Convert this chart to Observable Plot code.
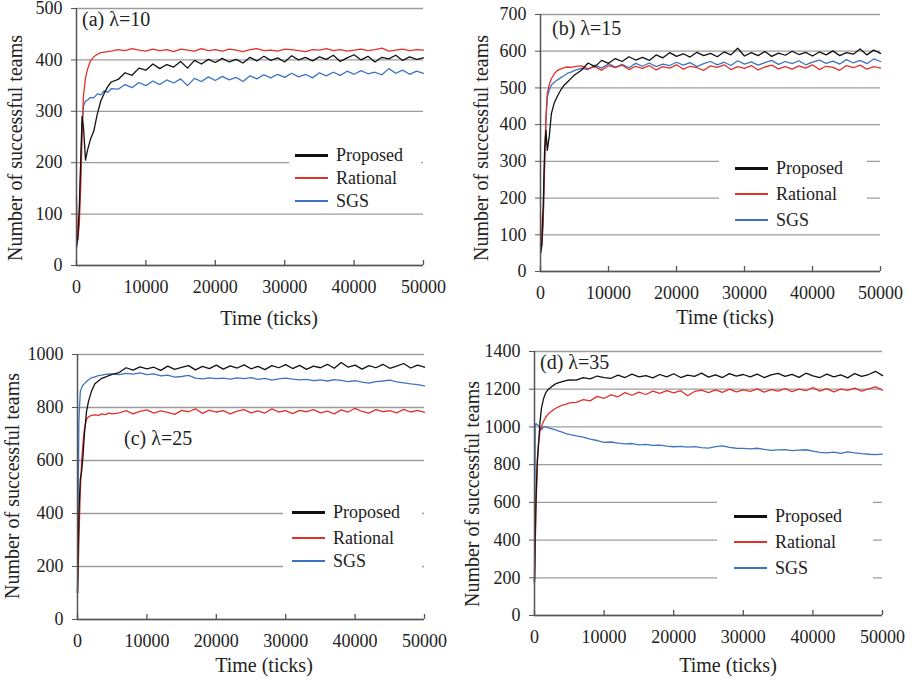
<!DOCTYPE html>
<html><head><meta charset="utf-8">
<script src="https://cdn.jsdelivr.net/npm/d3@7"></script>
<script src="https://cdn.jsdelivr.net/npm/@observablehq/plot@0.6"></script>
<style>
body{margin:0;background:#fff;}
#wrap{position:relative;width:920px;height:682px;font-family:"Liberation Serif","DejaVu Serif",serif;color:#222;overflow:hidden;}
.panel{position:absolute;}
.txt{position:absolute;white-space:nowrap;line-height:1;}
.ytitle{transform:translate(-50%,-50%) rotate(-90deg);font-size:20px;}
.xtitle{transform:translate(-50%,-50%);font-size:20px;}
.plabel{transform:translateY(-50%);font-size:20px;}
.legend{position:absolute;background:#fff;}
.lrow{position:absolute;left:0;display:flex;align-items:center;font-size:18px;line-height:1;transform:translateY(-50%);}
.lline{display:inline-block;width:33px;margin-right:8px;}
</style></head><body><div id="wrap"></div><script>
// time samples (ticks)
const ticks = [0,100,200,400,600,800,1000,1300,1600,2000,2500,3000,3500,4000,4500,5000,
 6000,7000,8000,9000,10000,11000,12000,13000,14000,15000,16000,17000,18000,19000,20000,
 21000,22000,23000,24000,25000,26000,27000,28000,29000,30000,31000,32000,33000,34000,35000,
 36000,37000,38000,39000,40000,41000,42000,43000,44000,45000,46000,47000,48000,49000,50000];

const seriesNames = ["Proposed","Rational","SGS"];
const seriesColors = ["#111111","#e2312a","#3d74bf"];
const xTickValues = [0,10000,20000,30000,40000,50000];

// (a) lambda = 10
const aProposed = [40,45,60,110,200,290,270,205,225,245,262,295,320,335,348,357,
 362,375,370,384,380, 392,383,391,386,397, 384,399,392,401,395, 403,396,401,394,405,
 398,407,399,404,396, 408,400,405,398,406, 401,409,397,404,410, 400,407,396,405,402, 409,399,406,401,404];
const aRational = [135,60,50,80,150,250,330,365,382,398,406,411,414,415,416,417,
 420,418,422,419,417, 421,418,420,416,421, 419,417,422,418,420, 417,421,419,416,420,
 422,418,419,417,421, 420,418,416,420,419, 422,418,420,417,419, 421,418,420,423,417, 419,421,418,420,419];
const aSGS = [35,40,55,100,190,270,310,320,322,327,326,334,332,340,337,344,
 343,352,346,356,350, 359,352,361,355,363, 350,364,358,367,360, 368,361,366,358,369,
 363,371,365,372,366, 374,367,372,365,375, 369,376,370,378,372, 379,373,376,371,383, 374,380,372,378,374];
const aYTicks = [0,100,200,300,400,500];

// (b) lambda = 15
const bProposed = [50,60,80,180,330,385,330,370,430,458,478,495,508,517,526,535,
 548,568,558,575,567, 580,572,585,576,583, 575,590,582,596,586, 593,584,597,588,594,
 585,598,590,608,587, 596,588,599,586,595, 589,600,591,597,587, 598,590,601,588,596, 592,606,590,603,594];
const bRational = [155,90,70,150,300,420,485,510,525,538,548,552,555,557,556,558,
 560,552,558,548,561, 555,562,550,559,553, 561,549,558,554,563, 551,559,555,548,560,
 556,563,550,558,553, 561,549,557,562,552, 558,551,560,554,563, 550,559,556,548,561, 555,562,551,558,554];
const bSGS = [50,55,70,140,280,410,475,495,508,515,522,528,534,540,543,548,
 553,550,562,554,566, 557,564,555,567,559, 568,558,565,561,570, 562,569,558,566,572,
 563,570,561,574,565, 571,562,569,575,564, 572,566,574,563,570, 576,567,573,565,577, 568,575,566,579,572];
const bYTicks = [0,100,200,300,400,500,600,700];

// (c) lambda = 25
const cProposed = [100,250,400,530,560,620,700,785,825,860,890,900,910,915,920,925,
 932,950,941,953,946, 952,940,956,944,951, 958,942,955,947,960, 945,957,949,961,946,
 955,943,958,950,962, 947,959,944,956,950, 963,948,970,952,960, 945,958,950,963,948, 956,966,949,960,952];
const cRational = [100,180,300,480,600,670,720,755,765,770,772,770,776,773,779,776,
 780,788,776,785,791, 779,787,782,774,789, 784,795,778,790,783, 788,776,786,792,780,
 787,779,795,783,788, 777,789,784,792,780, 786,776,791,783,797, 785,779,792,784,788, 780,793,783,789,782];
const cSGS = [100,450,750,860,875,885,890,898,905,912,916,920,922,925,927,926,
 924,929,926,931,924, 927,919,922,915,917, 921,911,908,912,909, 911,907,912,909,913,
 906,910,903,908,911, 907,904,906,901,904, 900,905,902,898,901, 896,892,898,900,903, 897,893,889,886,882];
const cYTicks = [0,200,400,600,800,1000];

// (d) lambda = 35
const dProposed = [180,400,600,820,920,1030,1100,1150,1180,1200,1215,1228,1235,1240,1245,1250,
 1248,1262,1255,1270,1262, 1258,1275,1262,1280,1266, 1272,1260,1278,1265,1282, 1262,1275,1268,1285,1264,
 1276,1262,1283,1270,1278, 1265,1280,1262,1276,1284, 1268,1279,1263,1285,1271, 1262,1280,1266,1276,1260, 1283,1268,1278,1295,1272];
const dRational = [180,350,550,800,920,980,1000,1030,1050,1070,1085,1098,1108,1115,1120,1128,
 1130,1145,1138,1162,1152, 1170,1160,1182,1168,1185, 1172,1190,1178,1193,1180, 1192,1165,1188,1195,1182,
 1197,1183,1200,1186,1196, 1188,1202,1185,1198,1190, 1203,1187,1200,1192,1208, 1190,1203,1186,1200,1194, 1206,1190,1202,1212,1195];
const dSGS = [170,1000,1018,1012,1005,995,985,1000,1002,995,990,985,978,972,965,960,
 953,946,935,928,918, 920,914,910,912,905, 908,902,904,898,895, 897,893,896,890,888,
 895,900,892,887,886, 884,887,881,876,878, 880,874,877,879,872, 865,862,866,860,868, 862,858,855,853,856];
const dYTicks = [0,200,400,600,800,1000,1200,1400];

const panels = [
  {label:"(a) λ=10", values:[aProposed,aRational,aSGS], yTicks:aYTicks,
   left:0, top:0, H:340, mL:76, mR:37, mT:8, mB:75,
   lab:[82,19], yt:[15,148], xt:[269,318], leg:{x:289,y:143,w:132,h:70,rows:[155,178,201],lx:295}},
  {label:"(b) λ=15", values:[bProposed,bRational,bSGS], yTicks:bYTicks,
   left:460, top:0, H:340, mL:80, mR:40, mT:14, mB:69,
   lab:[552,28], yt:[481,148], xt:[725,317], leg:{x:719,y:150,w:148,h:80,rows:[168,194,220],lx:735}},
  {label:"(c) λ=25", values:[cProposed,cRational,cSGS], yTicks:cYTicks,
   left:0, top:340, H:342, mL:77, mR:36, mT:14, mB:63,
   lab:[124,438], yt:[12,486], xt:[264,665], leg:{x:283,y:495,w:139,h:80,rows:[512,538,561],lx:292}},
  {label:"(d) λ=35", values:[dProposed,dRational,dSGS], yTicks:dYTicks,
   left:460, top:340, H:342, mL:74, mR:38, mT:11, mB:67,
   lab:[540,362], yt:[472,494], xt:[728,665], leg:{x:717,y:490,w:156,h:100,rows:[516,542,568],lx:734}}
];

const wrap = document.getElementById("wrap");
const font = "'Liberation Serif','DejaVu Serif',serif";

for (const p of panels) {
  const data = [];
  p.values.forEach((vals, si) => {
    ticks.forEach((t, i) => data.push({t, v: vals[i], s: seriesNames[si]}));
  });
  const plotH = p.H - p.mT - p.mB;
  const yMax = p.yTicks[p.yTicks.length - 1];
  const chart = Plot.plot({
    width: 460, height: p.H,
    marginLeft: p.mL, marginRight: p.mR, marginTop: p.mT, marginBottom: p.mB,
    style: {fontFamily: font, color: "#222", background: "transparent", overflow: "visible"},
    x: {domain: [0, 50000]},
    y: {domain: [0, yMax]},
    marks: [
      Plot.ruleY(p.yTicks, {stroke: "#9c9c9c", strokeWidth: 1.3}),
      Plot.axisY({ticks: p.yTicks, tickSize: 5, tickPadding: 9, tickFormat: d => String(d), label: null, fontSize: 18, fontFamily: font, stroke: "#555"}),
      Plot.axisX({ticks: xTickValues, tickSize: 0, tickPadding: 15, tickFormat: d => String(d), label: null, fontSize: 18, fontFamily: font}),
      Plot.ruleX(xTickValues, {insetTop: plotH - 5, stroke: "#555", strokeWidth: 1.3}),
      ...[2,1,0].map(si => Plot.line(data.filter(d => d.s === seriesNames[si]), {x: "t", y: "v", stroke: seriesColors[si], strokeWidth: 1.3})),
      Plot.ruleX([0], {stroke: "#555", strokeWidth: 1.5}),
      Plot.ruleY([0], {stroke: "#555", strokeWidth: 1.5})
    ]
  });
  const div = document.createElement("div");
  div.className = "panel";
  div.style.left = p.left + "px"; div.style.top = p.top + "px";
  div.appendChild(chart);
  wrap.appendChild(div);

  const add = (cls, text, x, y) => {
    const e = document.createElement("div");
    e.className = "txt " + cls; e.textContent = text;
    e.style.left = x + "px"; e.style.top = y + "px";
    wrap.appendChild(e);
  };
  add("plabel", p.label, p.lab[0], p.lab[1]);
  add("ytitle", "Number of successful teams", p.yt[0], p.yt[1]);
  add("xtitle", "Time (ticks)", p.xt[0], p.xt[1]);

  const L = p.leg;
  const lg = document.createElement("div");
  lg.className = "legend";
  lg.style.left = L.x + "px"; lg.style.top = L.y + "px";
  lg.style.width = L.w + "px"; lg.style.height = L.h + "px";
  wrap.appendChild(lg);
  seriesNames.forEach((name, si) => {
    const r = document.createElement("div");
    r.className = "lrow";
    r.style.left = (L.lx - L.x) + "px";
    r.style.top = (L.rows[si] - L.y) + "px";
    const ln = document.createElement("span");
    ln.className = "lline";
    ln.style.height = (si === 0 ? 3 : 2.5) + "px";
    ln.style.background = seriesColors[si];
    r.appendChild(ln);
    r.appendChild(document.createTextNode(name));
    lg.appendChild(r);
  });
}
</script></body></html>
